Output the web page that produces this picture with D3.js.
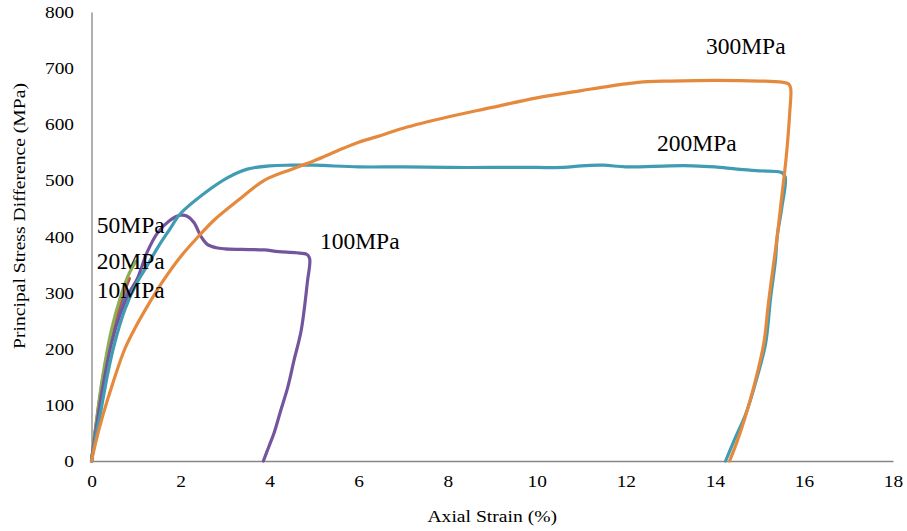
<!doctype html>
<html>
<head>
<meta charset="UTF-8">
<title>Principal Stress Difference vs Axial Strain</title>
<script src="https://d3js.org/d3.v7.min.js"></script>
<style>
  body { margin: 0; background: #fff; }
  text { font-family: "Liberation Serif", "Times New Roman", serif; fill: #000; }
</style>
</head>
<body>
<div id="chart"></div>
<script>
// strain (%), stress difference (MPa) for each confining pressure
var s10 = [[0,0],[0.1,60],[0.25,140],[0.45,218],[0.65,272],[0.8,300]];
var s20 = [[0,0],[0.1,62],[0.25,145],[0.45,226],[0.65,283],[0.85,325]];
var s50 = [[0,0],[0.1,65],[0.25,150],[0.45,234],[0.65,292],[0.85,335],[1.0,356]];
var s100 = [[0,0],[0.1,55],[0.25,130],[0.45,210],[0.65,263],[0.85,300],[1.03,325],[1.25,372],[1.48,406],[1.75,428],[2.0,438],[2.15,436],[2.3,425],[2.46,400],[2.6,386],[2.8,380],[3.0,378],[3.36,377],[3.88,376],[4.2,373],[4.6,371],[4.84,368],[4.9,360],[4.85,320],[4.71,233],[4.55,180],[4.41,132],[4.25,90],[4.1,50],[3.98,25],[3.86,0]];
var s200 = [[0,0],[0.1,45],[0.2,85],[0.35,150],[0.5,204],[0.75,270],[1.0,315],[1.25,348],[1.5,382],[1.75,412],[2.0,441],[2.5,475],[3.06,505],[3.5,520],[4,526],[4.5,527],[5,527],[6,524],[7,524],[8,523],[9,523],[10,523],[10.6,523],[11,526],[11.5,527],[12,524],[13,526],[13.5,526],[14,524],[14.5,520],[15,517],[15.5,514],[15.58,506],[15.5,450],[15.4,400],[15.36,358],[15.25,290],[15.14,210],[14.95,150],[14.7,85],[14.45,40],[14.24,0]];
var s300 = [[0,0],[0.1,35],[0.25,80],[0.5,144],[0.75,200],[1.0,240],[1.25,275],[1.6,320],[2,364],[2.4,400],[2.75,429],[3.3,465],[3.88,500],[4.5,520],[5,535],[5.5,552],[6,568],[6.5,580],[7,593],[8,613],[9,630],[10,647],[11,660],[12,672],[12.5,676],[13,677],[14,678],[15,677],[15.5,675],[15.65,672],[15.7,665],[15.68,620],[15.6,540],[15.5,470],[15.4,400],[15.33,358],[15.2,280],[15.1,210],[14.9,140],[14.66,73],[14.5,35],[14.33,0]];

var seriesNames = ["10MPa","20MPa","50MPa","100MPa","200MPa","300MPa"];
var seriesData = [s10, s20, s50, s100, s200, s300];
var seriesColors = ["#4F81BD","#C0504D","#8EAE52","#73559E","#409CB2","#E58A3C"];
// label anchor points in data units (strain, stress)
var labelPos = [[0.12,290],[0.12,342],[0.12,406],[5.13,378],[12.7,553],[13.8,725]];

var xTicks = d3.range(0, 19, 2);
var yTicks = d3.range(0, 801, 100);

var W = 907, H = 531;
var m = {left: 91.5, right: 14, top: 12, bottom: 70};

var svg = d3.select("#chart").append("svg")
    .attr("width", W)
    .attr("height", H);

var x = d3.scaleLinear().domain([0, 18]).range([m.left, W - m.right]);
var y = d3.scaleLinear().domain([0, 800]).range([H - m.bottom, m.top]);

// the original text is a little wider than plain Times
function widen(sel, k) {
  sel.each(function() {
    var w = this.getComputedTextLength();
    d3.select(this).attr("textLength", w * k).attr("lengthAdjust", "spacingAndGlyphs");
  });
}

var xAxis = svg.append("g")
    .attr("transform", "translate(0," + y(0) + ")")
    .call(d3.axisBottom(x).tickValues(xTicks).tickSize(0).tickPadding(14).tickFormat(d3.format("d")));
var yAxis = svg.append("g")
    .attr("transform", "translate(" + x(0) + ",0)")
    .call(d3.axisLeft(y).tickValues(yTicks).tickSize(0).tickPadding(17.5).tickFormat(d3.format("d")));

[xAxis, yAxis].forEach(function(g) {
  g.select(".domain").attr("stroke", "#868686").attr("stroke-width", 1.3);
  g.selectAll("text").style("font-family", "Liberation Serif").style("font-size", "17.3px").attr("fill", "#000");
  widen(g.selectAll("text"), 1.12);
});

svg.append("text")
    .attr("x", (x(0) + x(18)) / 2)
    .attr("y", 522)
    .attr("text-anchor", "middle")
    .style("font-size", "17.5px")
    .text("Axial Strain (%)")
    .call(widen, 1.12);

svg.append("text")
    .attr("transform", "translate(25," + 216 + ") rotate(-90)")
    .attr("text-anchor", "middle")
    .style("font-size", "17.5px")
    .text("Principal Stress Difference (MPa)")
    .call(widen, 1.12);

var line = d3.line()
    .x(function(d) { return x(d[0]); })
    .y(function(d) { return y(d[1]); })
    .curve(d3.curveCatmullRom.alpha(0.5));

svg.selectAll(".curve")
    .data(seriesData)
    .enter().append("path")
    .attr("class", "curve")
    .attr("d", line)
    .attr("fill", "none")
    .attr("stroke", function(d, i) { return seriesColors[i]; })
    .attr("stroke-width", 3.2)
    .attr("stroke-linejoin", "round")
    .attr("stroke-linecap", "round");

svg.selectAll(".lbl")
    .data(seriesNames)
    .enter().append("text")
    .attr("class", "lbl")
    .attr("x", function(d, i) { return x(labelPos[i][0]); })
    .attr("y", function(d, i) { return y(labelPos[i][1]); })
    .style("font-size", "23.5px")
    .text(function(d) { return d; });
</script>
</body>
</html>
